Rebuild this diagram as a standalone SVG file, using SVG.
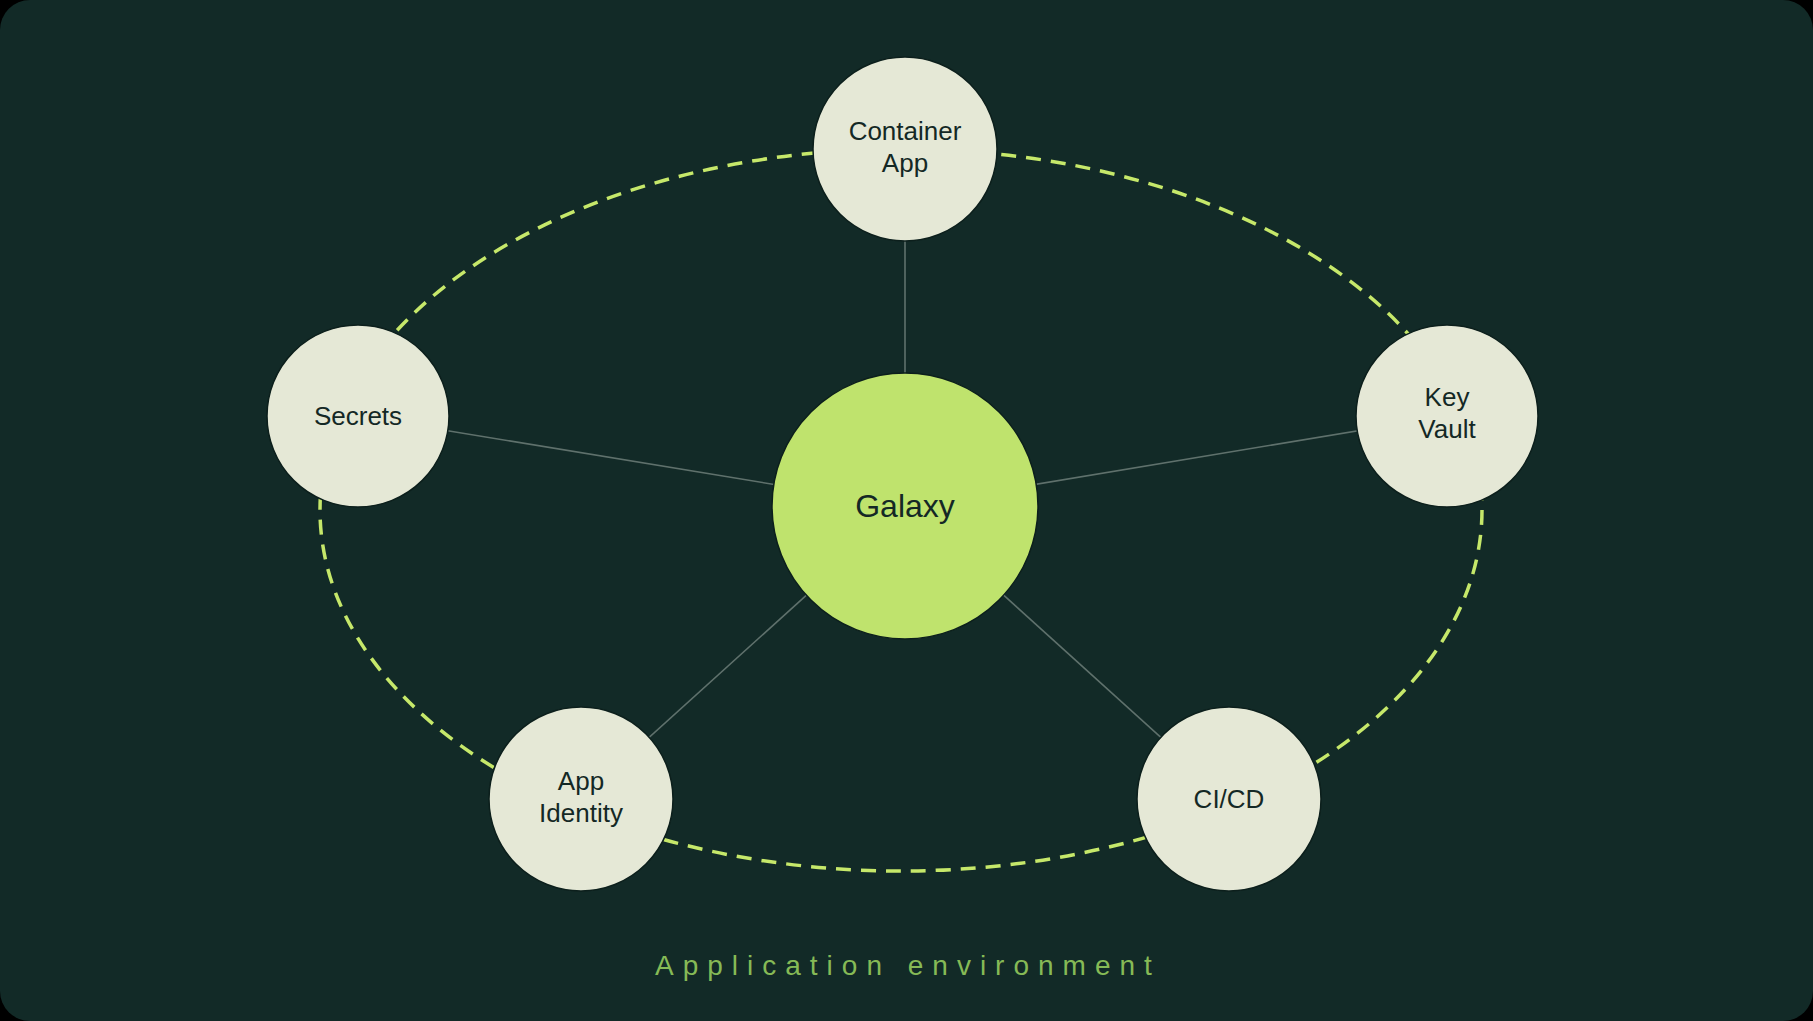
<svg xmlns="http://www.w3.org/2000/svg" width="1813" height="1021" viewBox="0 0 1813 1021">
  <style>
    .node { fill: #e5e8d6; stroke: #0c1f1c; stroke-width: 1.5; }
    .hub { fill: #bfe36d; stroke: #0c1f1c; stroke-width: 1.5; }
    .label { font-family: "Liberation Sans", Arial, sans-serif; font-size: 26px; fill: #142825; text-anchor: middle; }
    .hub-label { font-family: "Liberation Sans", Arial, sans-serif; font-size: 32px; fill: #142825; text-anchor: middle; }
    .spoke { stroke: #5f716c; stroke-width: 1.6; fill: none; }
    .ring { stroke: #c6e86a; stroke-width: 3.5; fill: none; stroke-dasharray: 15 10; }
    .caption { font-family: "Liberation Sans", Arial, sans-serif; font-size: 28px; fill: #86ba56; letter-spacing: 9px; }
  </style>
  <rect x="0" y="0" width="1813" height="1021" fill="#000000"/>
  <rect x="0" y="0" width="1813" height="1021" rx="30" ry="30" fill="#122a27"/>

  <g id="connectors">
    <ellipse class="ring" cx="901" cy="510" rx="581" ry="361"/>
    <line class="spoke" x1="905" y1="506" x2="905" y2="149"/>
    <line class="spoke" x1="905" y1="506" x2="358" y2="416"/>
    <line class="spoke" x1="905" y1="506" x2="1447" y2="416"/>
    <line class="spoke" x1="905" y1="506" x2="581" y2="799"/>
    <line class="spoke" x1="905" y1="506" x2="1229" y2="799"/>
  </g>

  <g id="container-app">
    <circle class="node" cx="905" cy="149" r="92"/>
    <text class="label" x="905" y="140">Container</text>
    <text class="label" x="905" y="172">App</text>
  </g>
  <g id="secrets">
    <circle class="node" cx="358" cy="416" r="91"/>
    <text class="label" x="358" y="425">Secrets</text>
  </g>
  <g id="key-vault">
    <circle class="node" cx="1447" cy="416" r="91"/>
    <text class="label" x="1447" y="406">Key</text>
    <text class="label" x="1447" y="438">Vault</text>
  </g>
  <g id="app-identity">
    <circle class="node" cx="581" cy="799" r="92"/>
    <text class="label" x="581" y="790">App</text>
    <text class="label" x="581" y="822">Identity</text>
  </g>
  <g id="ci-cd">
    <circle class="node" cx="1229" cy="799" r="92"/>
    <text class="label" x="1229" y="808">CI/CD</text>
  </g>
  <g id="galaxy">
    <circle class="hub" cx="905" cy="506" r="133"/>
    <text class="hub-label" x="905" y="517">Galaxy</text>
  </g>

  <text class="caption" x="655" y="975">Application environment</text>
</svg>
